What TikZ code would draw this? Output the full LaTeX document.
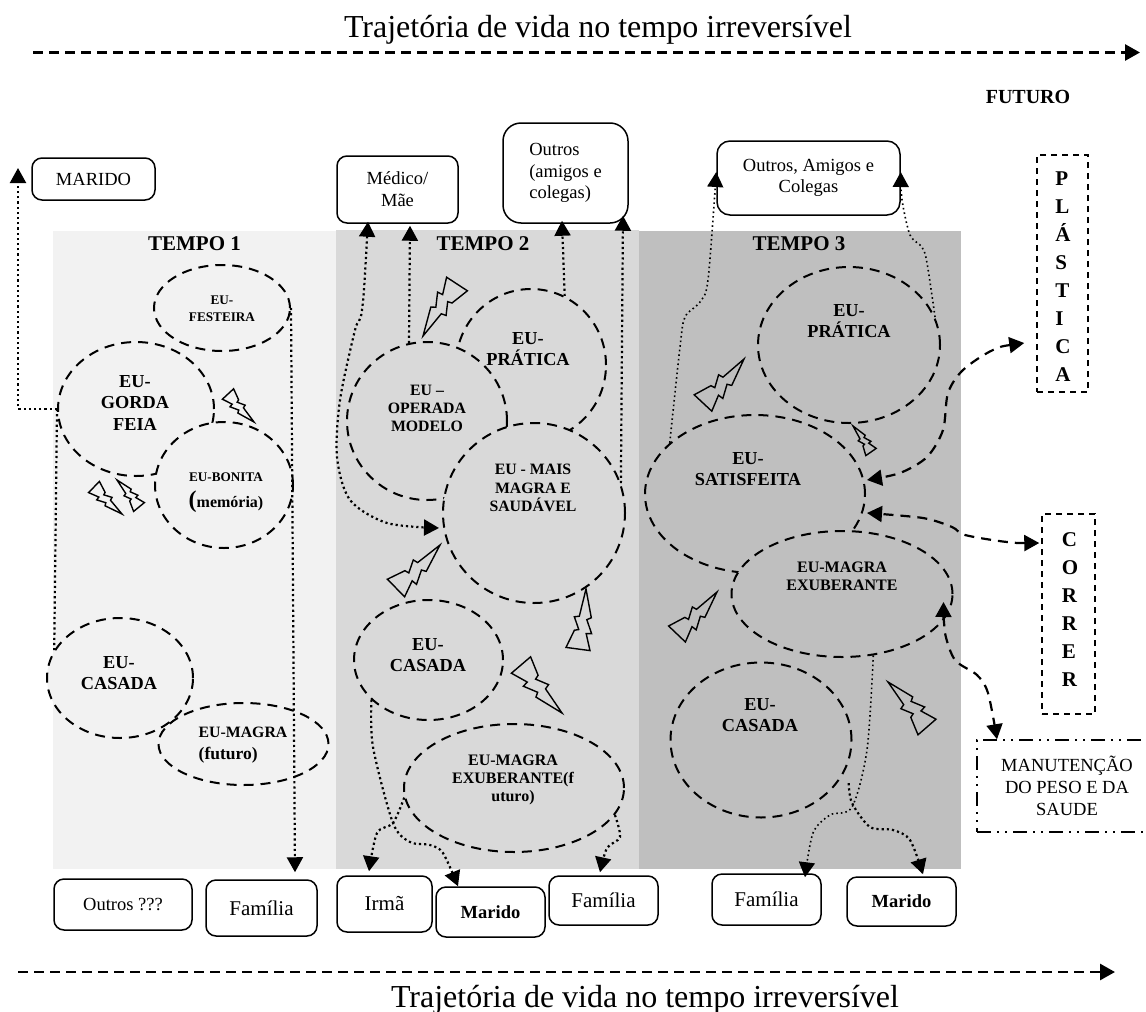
\documentclass[tikz,border=0pt]{standalone}
\usepackage{fontspec}
\setmainfont{Liberation Serif}
\usetikzlibrary{arrows.meta,shapes.geometric}
\newcommand\fs[2]{\fontsize{#1}{#2}\selectfont}
\tikzset{
  band/.style={draw=none,minimum height=638pt,inner sep=0pt},
  eu/.style={draw,ellipse,line width=2pt,dash pattern=on 10pt off 7pt,inner sep=0pt},
  eulbl/.style={align=center,inner sep=0pt,font=\bfseries\fs{18.3}{21.5}},
  eusmall/.style={align=center,inner sep=0pt,font=\bfseries\fs{16}{18}},
  tempo/.style={anchor=base,inner sep=0pt,font=\bfseries\fs{21}{24}},
  rbox/.style={draw,fill=white,rounded corners=10pt,line width=1.5pt,inner sep=0pt,align=center,font=\fs{18.5}{21.7}},
  dbox/.style={draw,line width=1.5pt,dash pattern=on 6pt off 5pt,inner sep=0pt},
  letters/.style={align=left,inner sep=0pt,font=\bfseries\fs{21}{28}},
  dots/.style={line width=2.2pt,dash pattern=on 2.2pt off 3pt},
  thindots/.style={line width=1.6pt,dash pattern=on 1.6pt off 3pt},
  dashline/.style={line width=2.2pt,dash pattern=on 10pt off 7pt},
  longdash/.style={line width=2.8pt,dash pattern=on 10pt off 6pt},
  tip/.style={-{Triangle[length=15pt,width=16pt]}},
  tips/.style={{Triangle[length=15pt,width=16pt]}-{Triangle[length=15pt,width=16pt]}},
  boltline/.style={draw,line width=1.4pt,line join=miter},
  title/.style={anchor=base,inner sep=0pt,font=\fs{32}{36}}
}
\newcommand\boltshape[5][1]{%
  \pgfmathsetmacro\ux{#4-#2}\pgfmathsetmacro\uy{#5-#3}%
  \draw[boltline,shift={(#2,#3)},x={(\ux pt,-\uy pt)},y={(#1*\uy pt,#1*\ux pt)}]
    (0,0) -- (.46,.15) -- (.50,.08) -- (.72,.19) -- (.73,.10) -- (1,.2) -- (1,-.2)
    -- (.70,-.10) -- (.68,-.03) -- (.48,-.13) -- (.46,-.05) -- cycle;}
\begin{document}
\begin{tikzpicture}[x=1pt,y=-1pt]
\useasboundingbox (0,0) rectangle (1146,1012);
\clip (0,0) rectangle (1146,1012);
% bands
\fill[fill=black!5]  (53,231) rectangle (336,869);
\fill[fill=black!15] (336,230) rectangle (639,869);
\fill[fill=black!25] (639,231) rectangle (961,869);
% titles
\node[title] (t1) at (598,37) {Trajetória de vida no tempo irreversível};
\node[title] (t2) at (645,1007) {Trajetória de vida no tempo irreversível};
\node[inner sep=0pt,font=\bfseries\fs{20}{22}] (futuro) at (1028,97) {FUTURO};
\coordinate (a1s) at (33,52.5); \coordinate (a1e) at (1140,52.5);
\coordinate (a2s) at (18,972); \coordinate (a2e) at (1115,972);
\draw[longdash,tip] (a1s) -- (a1e);
\draw[longdash,tip] (a2s) -- (a2e);
\node[tempo] (tempoa) at (194.5,250) {TEMPO 1};
\node[tempo] (tempob) at (483,250) {TEMPO 2};
\node[tempo] (tempoc) at (799,250) {TEMPO 3};
% boxes
\node[rbox,minimum width=123pt,minimum height=42pt] (marido1) at (93.5,179) {MARIDO};
\node[rbox,minimum width=121pt,minimum height=67pt] (medico) at (397.5,189.5) {Médico/\\Mãe};
\node[rbox,minimum width=125pt,minimum height=100pt,rounded corners=18pt,align=left] (outros) at (565.5,173) {Outros\\(amigos e\\colegas)};
\node[rbox,minimum width=183pt,minimum height=74pt,rounded corners=13pt] (amigos) at (808.5,178) {Outros, Amigos e\\Colegas};
\node[rbox,minimum width=138pt,minimum height=51pt] (outros4) at (123,904.5) {Outros ???};
\node[rbox,minimum width=111pt,minimum height=56pt,font=\fs{21}{24}] (fam1) at (261.5,908) {Família};
\node[rbox,minimum width=95pt,minimum height=56pt,font=\fs{21}{24}] (irma) at (384.5,904) {Irmã};
\node[rbox,minimum width=109pt,minimum height=50pt,font=\bfseries\fs{18.5}{22}] (marido2) at (490.5,912) {Marido};
\node[rbox,minimum width=109pt,minimum height=49pt,font=\fs{21}{24}] (fam2) at (603.5,900.5) {Família};
\node[rbox,minimum width=109pt,minimum height=51pt,font=\fs{21}{24}] (fam3) at (766.5,899.5) {Família};
\node[rbox,minimum width=109pt,minimum height=49pt,font=\bfseries\fs{18.5}{22}] (marido3) at (901.5,901.5) {Marido};
\node[dbox,minimum width=51pt,minimum height=237pt] (plastica) at (1062.5,273.5) {};
\node[letters] (plasticat) at (1063,277) {P\\L\\Á\\S\\T\\I\\C\\A};
\node[dbox,minimum width=53pt,minimum height=200pt] (correr) at (1068.5,614) {};
\node[letters] (corrert) at (1070,610) {C\\O\\R\\R\\E\\R};
\node[draw,line width=1.5pt,dash pattern=on 14pt off 6pt on 2pt off 6pt on 2pt off 6pt,minimum width=180pt,minimum height=92pt,inner sep=0pt,align=center,font=\fs{18.5}{22}] (manut) at (1067,786) {MANUTENÇÃO\\DO PESO E DA\\SAUDE};
% tempo 1 ellipses
\node[eu,fill=black!5,minimum width=156pt,minimum height=134pt] (gorda) at (136,409) {};
\node[eu,fill=black!5,minimum width=138pt,minimum height=126pt] (bonita) at (224,485) {};
\node[eu,fill=black!5,minimum width=136pt,minimum height=86pt] (fest) at (222,308) {};
\node[eu,fill=black!5,minimum width=146pt,minimum height=120pt] (casada1) at (120,678) {};
\node[eu,fill=black!5,minimum width=170pt,minimum height=82pt] (magra1) at (243.5,744) {};
% tempo 2 ellipses
\node[eu,fill=black!15,minimum width=150pt,minimum height=152pt] (pratica2) at (531,365) {};
\node[eu,fill=black!15,minimum width=160pt,minimum height=158pt] (operada) at (427,421) {};
\node[eu,fill=black!15,minimum width=182pt,minimum height=180pt] (maismagra) at (534,513) {};
\node[eu,fill=black!15,minimum width=149pt,minimum height=120pt] (casada2) at (428.5,660) {};
\node[eu,fill=black!15,minimum width=220pt,minimum height=128pt] (exub2) at (514,788) {};
% tempo 3 ellipses
\node[eu,fill=black!25,minimum width=220pt,minimum height=158pt] (satisf) at (755,494) {};
\node[eu,fill=black!25,minimum width=182pt,minimum height=156pt] (pratica3) at (849,345) {};
\node[eu,fill=black!25,minimum width=221pt,minimum height=126pt] (magra3) at (842,594) {};
\node[eu,fill=black!25,minimum width=181pt,minimum height=155pt] (casada3) at (761,740) {};
% labels
\node[eulbl,font=\bfseries\fs{13.2}{17}] (festt) at (222,309) {EU-\\FESTEIRA};
\node[eulbl] (gordat) at (135,403) {EU-\\GORDA\\FEIA};
\node[eulbl,font=\bfseries\fs{13.2}{26}] (bonitat) at (226,493) {EU-BONITA\\{\fs{24}{26}(}{\fs{16}{26}memória)}};
\node[eulbl] (casada1t) at (119,673) {EU-\\CASADA};
\node[eulbl,align=left,font=\bfseries\fs{15.8}{22}] (magra1t) at (243,745) {EU-MAGRA\\{\fs{17.5}{22}(futuro)}};
\node[eulbl] (pratica2t) at (528,349) {EU-\\PRÁTICA};
\node[eusmall,font=\bfseries\fs{15.8}{18}] (operadat) at (427,408) {EU --\\OPERADA\\MODELO};
\node[eusmall,font=\bfseries\fs{15.8}{18.5}] (maismagrat) at (533,488) {EU - MAIS\\MAGRA E\\SAUDÁVEL};
\node[eulbl] (casada2t) at (428,655) {EU-\\CASADA};
\node[eusmall] (exub2t) at (513,780) {EU-MAGRA\\EXUBERANTE(f\\uturo)};
\node[eulbl] (pratica3t) at (849,321) {EU-\\PRÁTICA};
\node[eulbl] (satisft) at (748,469) {EU-\\SATISFEITA};
\node[eusmall] (magra3t) at (842,576) {EU-MAGRA\\EXUBERANTE};
\node[eulbl] (casada3t) at (760,715) {EU-\\CASADA};
% bolts
\boltshape{254}{422}{228}{394}
\boltshape{122}{514}{94}{487}
\boltshape{117}{480}{139}{507}
\boltshape{423}{336}{457}{284}
\boltshape{440}{545}{396}{588}
\boltshape{586}{589}{578}{649}
\boltshape{562}{713}{521}{665}
\boltshape{744}{359}{703}{403}
\boltshape{853}{426}{871}{452}
\boltshape{717}{592}{677}{634}
\boltshape{888}{682}{927}{727}
% connectors tempo 1
\coordinate (maridotip) at (18,168);
\draw[dots,tip] (gorda.west) -| (maridotip);
\draw[dots] (gorda.west) -- (casada1.157);
\draw[dots,tip] (fest.east) -- ([xshift=33.5pt,yshift=7pt]fam1.north);
% connectors tempo 2
\draw[dots,tips] plot[smooth] coordinates {([xshift=-29.5pt,yshift=2pt]medico.south) (362,310) (355,330) (340,400) (337,457) (350,500) (387,523) ([xshift=-3pt,yshift=-15pt]maismagra.west)};
\draw[dots,tip] (operada.103) -- ([xshift=12.5pt,yshift=-2pt]medico.south);
\draw[dots,tip] (pratica2.64) -- ([xshift=-3.5pt,yshift=3pt]outros.south);
\draw[dots,tip] (maismagra.19) -- ([xshift=57.5pt,yshift=8pt]outros.south);
\draw[dots,tip] plot[smooth] coordinates {(casada2.215) (373,747) (393,823) (410,842) (430,845) (443,853) ([xshift=-32.5pt]marido2.north)};
\draw[dots,tip] plot[smooth] coordinates {(exub2.185) (393,823) (377,833) ([xshift=-15.5pt,yshift=4pt]irma.north)};
\draw[dots,tip] plot[smooth] coordinates {(exub2.345) (620,837) (607,848) ([xshift=-3.5pt,yshift=3pt]fam2.north)};
% connectors tempo 3
\draw[thindots,tip] plot[smooth] coordinates {(satisf.149) (680,347) (685,317) (700,302) (708,280) ([yshift=6pt]amigos.west)};
\draw[thindots,tip] plot[smooth] coordinates {(pratica3.18) (927,263) (922,247) (910,235) (902,200) ([yshift=6pt]amigos.east)};
\draw[thindots,tip] plot[smooth] coordinates {(magra3.297) (867,750) (852,807) (830,815) (813,833) ([xshift=38.5pt,yshift=-4pt]fam3.north)};
\draw[dots,tip] plot[smooth] coordinates {([xshift=9pt,yshift=-3pt]casada3.333) (852,803) (870,827) (893,830) (910,840) ([xshift=21.5pt,yshift=2pt]marido3.north)};
% dashed connectors
\draw[dashline,tips] plot[smooth] coordinates {([xshift=-12pt,yshift=-69.5pt]plastica.west) (993,350) (963,370) (948,393) (943,430) (927,457) (900,473) ([xshift=1pt,yshift=14pt]satisf.east)};
\draw[dashline,tips] plot[smooth] coordinates {([xshift=-2pt,yshift=71pt]correr.west) (1007,542) (965,535) (952,527) (923,518) ([xshift=1pt,yshift=-19pt]satisf.east)};
\draw[dashline,tips] plot[smooth] coordinates {([xshift=-10pt,yshift=-8pt]magra3.east) (945,633) (955,660) (977,675) (988,693) ([xshift=-70pt]manut.north)};
\end{tikzpicture}
\end{document}
